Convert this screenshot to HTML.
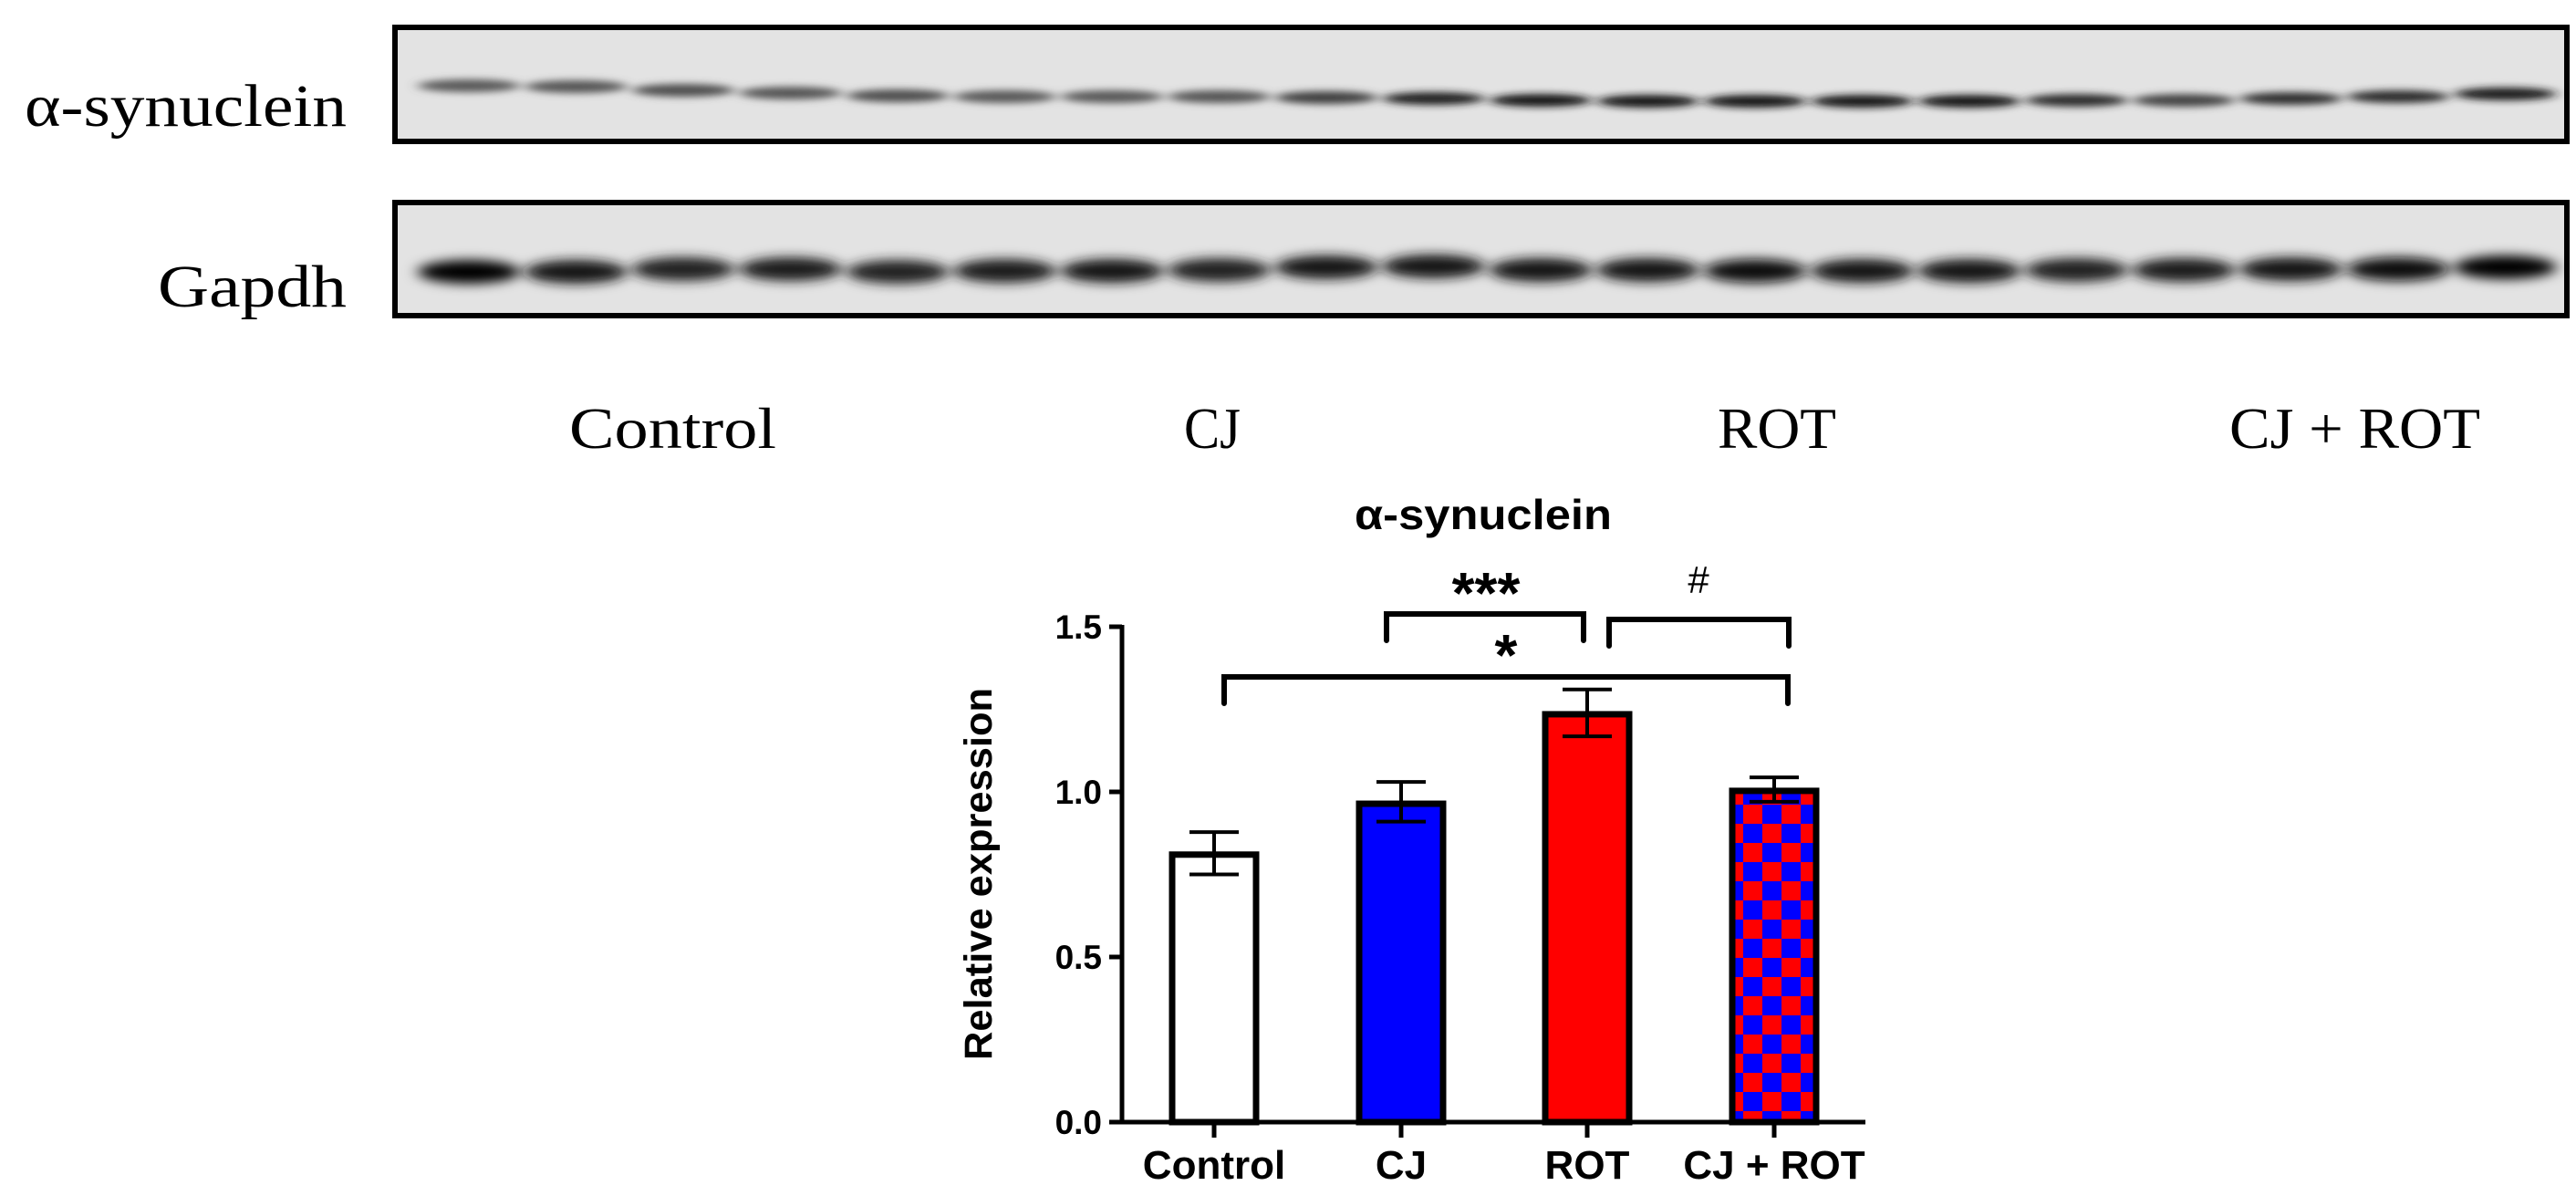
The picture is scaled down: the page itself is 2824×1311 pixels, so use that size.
<!DOCTYPE html>
<html><head><meta charset="utf-8"><style>
html,body{margin:0;padding:0;background:#fff;}
svg{display:block;}
</style></head><body>
<svg id="fig" width="2824" height="1311" viewBox="0 0 2824 1311" xmlns="http://www.w3.org/2000/svg">
<defs>
<filter id="blurA" x="-20%" y="-200%" width="140%" height="500%"><feGaussianBlur stdDeviation="7 4"/></filter>
<filter id="blurG" x="-20%" y="-200%" width="140%" height="500%"><feGaussianBlur stdDeviation="8 6"/></filter>
<pattern id="checker" x="0" y="0" width="42" height="42" patternUnits="userSpaceOnUse">
<rect width="42" height="42" fill="#ff0000"/>
<rect x="0" y="0" width="21" height="21" fill="#0000ff"/>
<rect x="21" y="21" width="21" height="21" fill="#0000ff"/>
</pattern>
</defs>
<g id="blots"></g>
<g id="chart"></g>
</svg>
<script>
// ---- blot data ----
const laneCount = 20;
const synIntensity = [0.6,0.62,0.65,0.62,0.65,0.6,0.6,0.62,0.72,0.85,0.9,0.9,0.9,0.9,0.9,0.8,0.7,0.78,0.8,0.88];
const synBandY = [94,95,99,102,105,106,106,106,107,108,110,111,111,111,111,110,110,108,106,103];
const gapdhIntensity = [0.98,0.9,0.85,0.88,0.85,0.88,0.9,0.85,0.92,0.92,0.92,0.9,0.95,0.92,0.9,0.85,0.88,0.9,0.95,1.0];
const gapdhBandY = [298,298,295,295,298,297,297,296,293,292,296,296,297,297,297,296,296,295,295,293];
const groupLabels = ["Control","CJ","ROT","CJ + ROT"];

// ---- chart data ----
const categories = ["Control","CJ","ROT","CJ + ROT"];
const values = [0.81,0.964,1.235,1.003];
const errUp = [0.878,1.03,1.31,1.044];
const errDown = [0.75,0.91,1.168,0.97];
const yTicks = [0.0,0.5,1.0,1.5];
const yTickLabels = ["0.0","0.5","1.0","1.5"];
const fills = ["#ffffff","#0000ff","#ff0000","url(#checker)"];

const NS = "http://www.w3.org/2000/svg";
function mk(tag, attrs, parent){ const e=document.createElementNS(NS,tag); for(const k in attrs) e.setAttribute(k,attrs[k]); parent.appendChild(e); return e; }

// ---- blots ----
const blots = document.getElementById('blots');
const laneX = i => 514 + i*117.5;
function drawBlot(y0, y1, intens, ys, rh, filt, name){
  const g = mk('g',{},blots);
  
  
  mk('rect',{x:433,y:y0,width:2381,height:y1-y0,fill:'#e3e3e3'},g);
  const bands = mk('g',{filter:filt},g);
  for(let i=0;i<laneCount;i++){
    const v = Math.round(225*(1-intens[i]));
    const b = mk('ellipse',{cx:laneX(i),cy:ys[i],rx:56,ry:rh,fill:`rgb(${v},${v},${v})`},bands);
    
    
  }
  mk('rect',{x:433,y:y0,width:2381,height:y1-y0,fill:'none',stroke:'#000','stroke-width':6},g);
}
drawBlot(30,155,synIntensity,synBandY,7,'url(#blurA)','alpha-synuclein-blot');
drawBlot(222,346,gapdhIntensity,gapdhBandY,13,'url(#blurG)','gapdh-blot');

function txt(parent, s, attrs, name){ const t=mk('text',attrs,parent); t.textContent=s;   return t; }
const serif = "'Liberation Serif', serif";
txt(blots,"α-synuclein",{x:27,y:138,'font-family':serif,'font-size':66,textLength:353,lengthAdjust:'spacingAndGlyphs'},'blot-label-alpha-synuclein');
txt(blots,"Gapdh",{x:173,y:336,'font-family':serif,'font-size':66,textLength:207,lengthAdjust:'spacingAndGlyphs'},'blot-label-gapdh');
const laneLabelX = [624,1298,1883,2444];
const laneLabelW = [227,62,130,275];
groupLabels.forEach((s,i)=>{
  txt(blots,s,{x:laneLabelX[i],y:491,'font-family':serif,'font-size':64,textLength:laneLabelW[i],lengthAdjust:'spacingAndGlyphs'},'group-label');
});

// ---- chart ----
const chart = document.getElementById('chart');
const sans = "'Liberation Sans', sans-serif";
const X0=1230, Y0=1230, Ypx=(1230-687)/1.5;
const yS = v => Y0 - v*Ypx;
const barCenters = [1331,1536,1740,1945];
const xS = i => barCenters[i];
const bw = 92;

txt(chart,"α-synuclein",{x:1626,y:580,'font-family':sans,'font-size':46,'font-weight':'bold','text-anchor':'middle',textLength:282,lengthAdjust:'spacingAndGlyphs'},'chart-title');
txt(chart,"Relative expression",{x:0,y:0,'font-family':sans,'font-size':43,'font-weight':'bold','text-anchor':'middle',textLength:408,lengthAdjust:'spacingAndGlyphs',transform:'translate(1087,958) rotate(-90)'},'y-axis-title');

const axis = mk('g',{stroke:'#000','stroke-width':5,fill:'none'},chart);


mk('line',{x1:X0,y1:yS(1.5)-2,x2:X0,y2:Y0+2},axis);
mk('line',{x1:X0-2,y1:Y0,x2:2045,y2:Y0},axis);
yTicks.forEach((t,i)=>{
  mk('line',{x1:X0-14,y1:yS(t),x2:X0,y2:yS(t)},axis);
  txt(chart,yTickLabels[i],{x:1208,y:yS(t)+13,'font-family':sans,'font-size':37,'font-weight':'bold','text-anchor':'end'},'y-tick-label');
});
categories.forEach((c,i)=>{
  mk('line',{x1:xS(i),y1:Y0,x2:xS(i),y2:Y0+17},axis);
  txt(chart,c,{x:xS(i),y:1292,'font-family':sans,'font-size':44,'font-weight':'bold','text-anchor':'middle'},'x-tick-label');
  const b = mk('rect',{x:xS(i)-bw/2,y:yS(values[i]),width:bw,height:Y0-yS(values[i]),fill:fills[i],stroke:'#000','stroke-width':7},chart);
  
  
  const e = mk('g',{stroke:'#000','stroke-width':4},chart);
  
  
  mk('line',{x1:xS(i),y1:yS(errUp[i]),x2:xS(i),y2:yS(errDown[i])},e);
  mk('line',{x1:xS(i)-27,y1:yS(errUp[i]),x2:xS(i)+27,y2:yS(errUp[i])},e);
  mk('line',{x1:xS(i)-27,y1:yS(errDown[i]),x2:xS(i)+27,y2:yS(errDown[i])},e);
});

// significance brackets
function bracket(xa,xb,y,drop,name){
  const p = mk('path',{d:`M${xa} ${y+drop} V${y} H${xb} V${y+drop}`,fill:'none',stroke:'#000','stroke-width':6,'stroke-linecap':'round','stroke-linejoin':'miter'},chart);
  
  
}
bracket(1520,1736,673,29,'bracket-cj-rot');
bracket(1764,1961,679,29,'bracket-rot-cjrot');
bracket(1342,1960,742,29,'bracket-control-cjrot');
txt(chart,"***",{x:1629,y:672,'font-family':sans,'font-size':64,'font-weight':'bold','text-anchor':'middle'},'significance-three-stars');
txt(chart,"*",{x:1651,y:740,'font-family':sans,'font-size':64,'font-weight':'bold','text-anchor':'middle'},'significance-one-star');
txt(chart,"#",{x:1862,y:650,'font-family':sans,'font-size':42,'text-anchor':'middle'},'significance-hash');
</script>
</body></html>
